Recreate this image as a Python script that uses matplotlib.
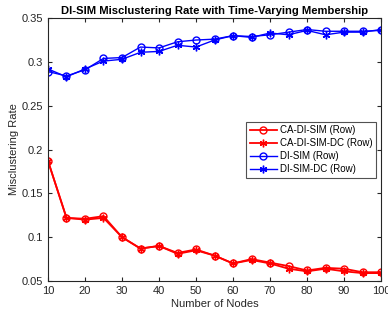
import matplotlib
matplotlib.use("Agg")
import matplotlib.pyplot as plt

nodes = [10, 15, 20, 25, 30, 35, 40, 45, 50, 55, 60, 65, 70, 75, 80, 85, 90, 95, 100]

ca_disim = [0.187, 0.122, 0.121, 0.124, 0.100, 0.087, 0.090, 0.082, 0.086, 0.079,
            0.070, 0.075, 0.071, 0.067, 0.062, 0.065, 0.064, 0.060, 0.060]
ca_disim_dc = [0.187, 0.122, 0.120, 0.122, 0.100, 0.087, 0.090, 0.081, 0.085, 0.079,
               0.070, 0.074, 0.070, 0.064, 0.061, 0.064, 0.061, 0.059, 0.059]
disim = [0.289, 0.284, 0.291, 0.304, 0.305, 0.317, 0.316, 0.323, 0.325, 0.326,
         0.330, 0.329, 0.331, 0.334, 0.337, 0.335, 0.335, 0.335, 0.336]
disim_dc = [0.292, 0.283, 0.292, 0.301, 0.303, 0.311, 0.312, 0.319, 0.317, 0.325,
            0.330, 0.328, 0.333, 0.331, 0.336, 0.331, 0.334, 0.334, 0.337]

ASTERISK = (6, 2, 0)  # matlab-like '*' marker

plt.rcParams["font.family"] = ["Liberation Sans", "DejaVu Sans"]

fig = plt.figure(figsize=(3.88, 3.18), dpi=100)
ax = fig.add_axes([0.1237, 0.1164, 0.8583, 0.8266])

ax.plot(nodes, ca_disim, color="#ff0000", lw=1.3, marker="o", ms=5, mfc="none",
        mew=1.0, label="CA-DI-SIM (Row)")
ax.plot(nodes, ca_disim_dc, color="#ff0000", lw=1.3, marker=ASTERISK, ms=5.5,
        mew=1.0, label="CA-DI-SIM-DC (Row)")
ax.plot(nodes, disim, color="#0000ff", lw=1.0, marker="o", ms=5, mfc="none",
        mew=1.0, label="DI-SIM (Row)")
ax.plot(nodes, disim_dc, color="#0000ff", lw=1.0, marker=ASTERISK, ms=5.5,
        mew=1.0, label="DI-SIM-DC (Row)")

ax.set_xlim(10, 100)
ax.set_ylim(0.05, 0.35)
ax.set_xticks(range(10, 101, 10))
ax.set_yticks([0.05, 0.1, 0.15, 0.2, 0.25, 0.3, 0.35])
ax.set_yticklabels(["0.05", "0.1", "0.15", "0.2", "0.25", "0.3", "0.35"])
ax.tick_params(direction="in", length=3, labelsize=8, colors="#262626",
               top=True, right=True, labeltop=False, labelright=False)
for s in ax.spines.values():
    s.set_color("#262626")
    s.set_linewidth(0.8)

ax.set_xlabel("Number of Nodes", fontsize=8, color="#262626", labelpad=2)
ax.set_ylabel("Misclustering Rate", fontsize=8, color="#262626", labelpad=2)
ax.set_title("DI-SIM Misclustering Rate with Time-Varying Membership",
             fontsize=8.1, fontweight="bold", pad=3)

leg = ax.legend(loc="upper left", bbox_to_anchor=(0.595, 0.605), fontsize=7,
                frameon=True, fancybox=False, edgecolor="#262626",
                borderpad=0.35, labelspacing=0.3, handlelength=2.8,
                handletextpad=0.3, borderaxespad=0)
leg.get_frame().set_linewidth(0.8)

fig.savefig("out.png", dpi=100, facecolor="white")
